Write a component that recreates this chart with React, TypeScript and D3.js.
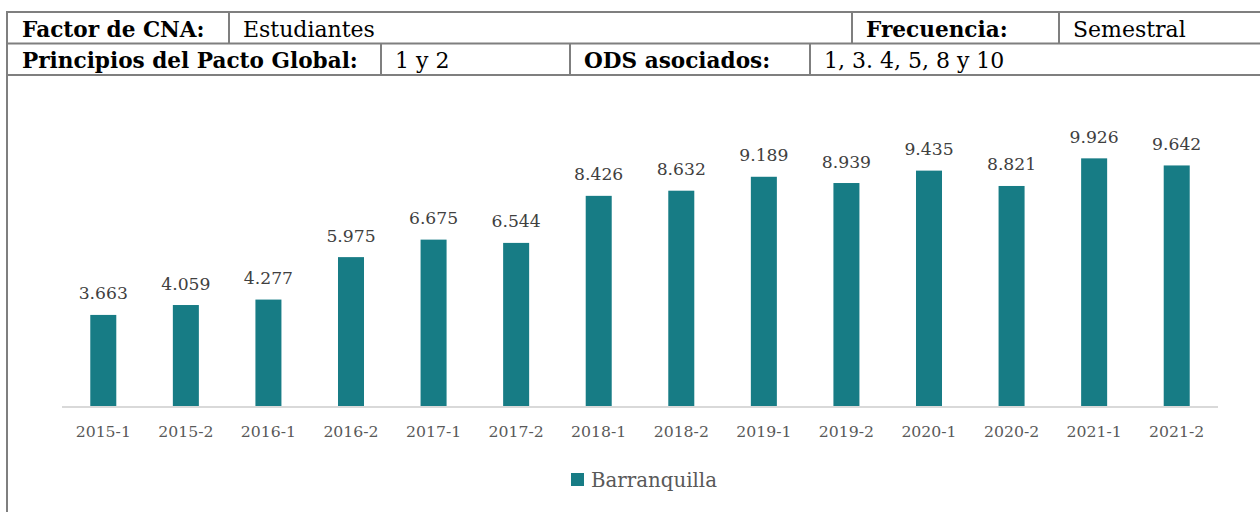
import React from "react";
import * as d3 from "d3";

const categories = ["2015-1","2015-2","2016-1","2016-2","2017-1","2017-2","2018-1","2018-2","2019-1","2019-2","2020-1","2020-2","2021-1","2021-2"];
const values = [3.663,4.059,4.277,5.975,6.675,6.544,8.426,8.632,9.189,8.939,9.435,8.821,9.926,9.642];
const seriesName = "Barranquilla";
const headerRow1 = [
  { text: "Factor de CNA:", bold: true },
  { text: "Estudiantes", bold: false },
  { text: "Frecuencia:", bold: true },
  { text: "Semestral", bold: false },
];
const headerRow2 = [
  { text: "Principios del Pacto Global:", bold: true },
  { text: "1 y 2", bold: false },
  { text: "ODS asociados:", bold: true },
  { text: "1, 3. 4, 5, 8 y 10", bold: false },
];

const W = 1260, H = 512;
const FONT = "'DejaVu Serif', serif";
const LINE = "#7f7f7f";
const BAR = "#177c85";

const fmt = (v: number) => d3.format(".3f")(v);

export default function App() {
  const x = d3.scaleBand<string>().domain(categories).range([62, 1218]).padding(0);
  const y = d3.scaleLinear().domain([0, 12]).range([406.5, 106.5]);
  const bw = x.bandwidth() * 0.315;

  const row1Cells = [7, 229, 852, 1059];
  const row2Cells = [7, 381, 570, 810];

  return (
    <svg width={W} height={H} style={{ position: "absolute", left: 0, top: 0, background: "#fff" }}>
      <rect x={0} y={0} width={W} height={H} fill="#fff" />
      <g stroke={LINE} strokeWidth={2}>
        <line x1={6} x2={W + 2} y1={12} y2={12} />
        <line x1={6} x2={W + 2} y1={43.5} y2={43.5} />
        <line x1={6} x2={W + 2} y1={75} y2={75} />
        <line x1={7} x2={7} y1={11} y2={H + 2} />
        {row1Cells.slice(1).map((cx, i) => (
          <line key={"r1" + i} x1={cx} x2={cx} y1={12} y2={43.5} />
        ))}
        {row2Cells.slice(1).map((cx, i) => (
          <line key={"r2" + i} x1={cx} x2={cx} y1={43.5} y2={75} />
        ))}
      </g>
      <g fontFamily={FONT} fill="#000">
        {headerRow1.map((c, i) => (
          <text key={"t1" + i} x={row1Cells[i] + (i === 0 ? 15 : 14)} y={36.5}
            fontWeight={c.bold ? 700 : 400} fontSize={c.bold ? 21.6 : 22}>
            {c.text}
          </text>
        ))}
        {headerRow2.map((c, i) => (
          <text key={"t2" + i} x={row2Cells[i] + (i === 0 ? 15 : 14)} y={68}
            fontWeight={c.bold ? 700 : 400} fontSize={c.bold ? 21.6 : 22}>
            {c.text}
          </text>
        ))}
      </g>

      <g>
        {categories.map((c, i) => (
          <rect
            key={c}
            x={(x(c) as number) + x.bandwidth() / 2 - bw / 2}
            y={y(values[i])}
            width={bw}
            height={y(0) - y(values[i])}
            fill={BAR}
          />
        ))}
      </g>
      <line x1={62} x2={1218} y1={y(0) + 0.5} y2={y(0) + 0.5} stroke="#d9d9d9" strokeWidth={2} />
      <g fontFamily={FONT} fontSize={17.2} fill="#404040" textAnchor="middle">
        {categories.map((c, i) => (
          <text key={"v" + c} x={(x(c) as number) + x.bandwidth() / 2} y={y(values[i]) - 15.5}>
            {fmt(values[i])}
          </text>
        ))}
      </g>
      <g fontFamily={FONT} fontSize={15.7} fill="#595959" textAnchor="middle">
        {categories.map((c) => (
          <text key={"a" + c} x={(x(c) as number) + x.bandwidth() / 2} y={437}>
            {c}
          </text>
        ))}
      </g>
      <rect x={571} y={473} width={13} height={13} fill={BAR} />
      <text x={591} y={487} fontFamily={FONT} fontSize={19.8} fill="#595959">
        {seriesName}
      </text>
    </svg>
  );
}
